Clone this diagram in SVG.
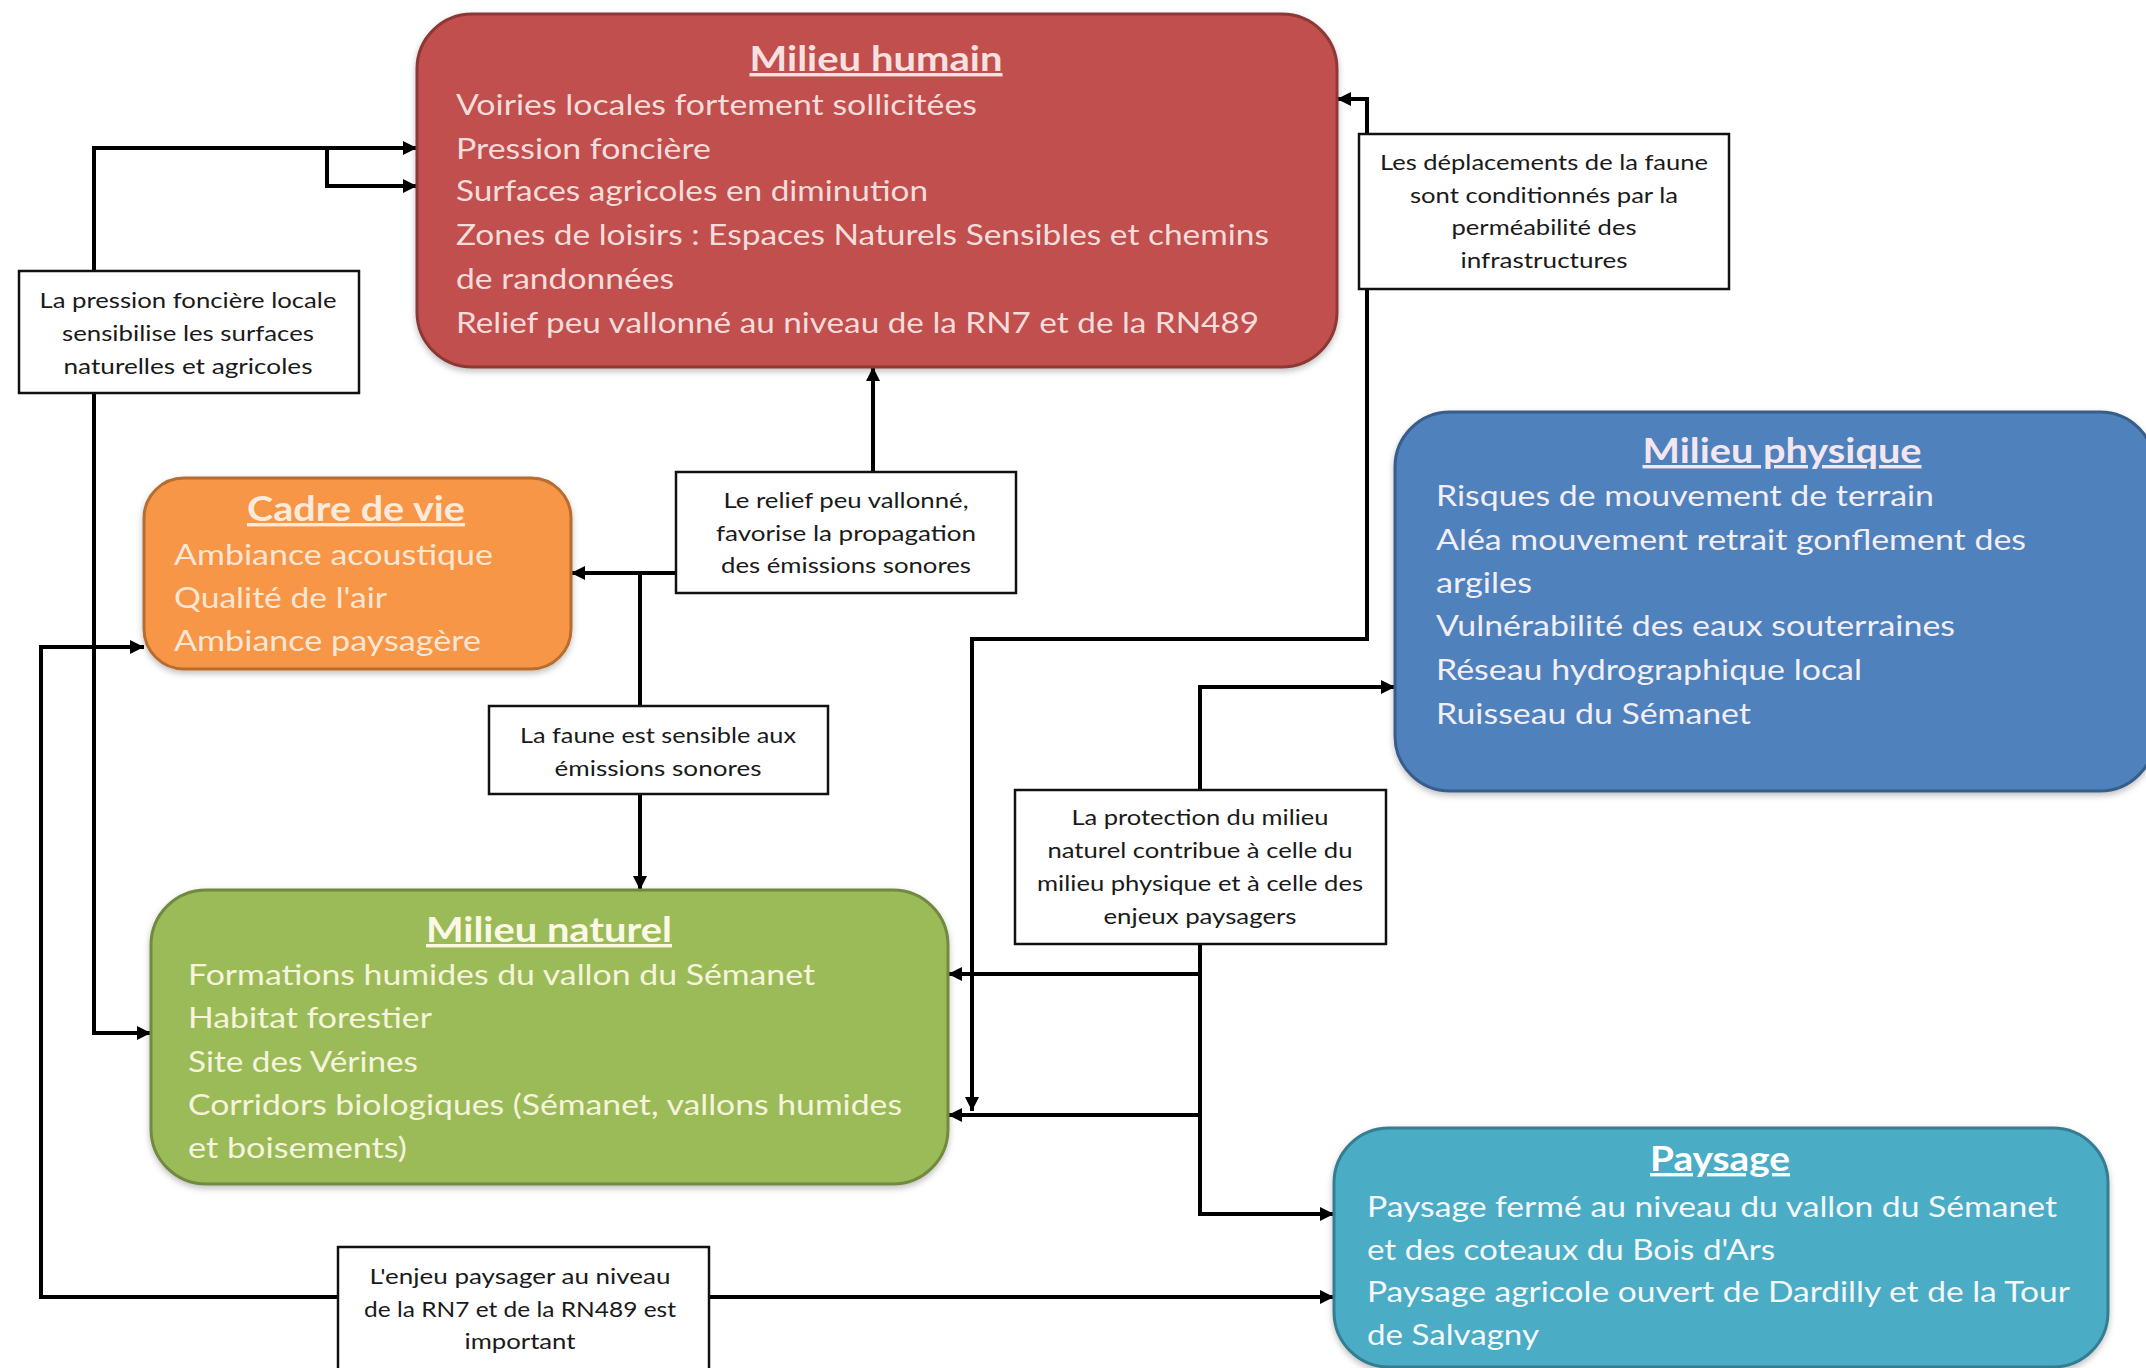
<svg xmlns="http://www.w3.org/2000/svg" width="2146" height="1368" viewBox="0 0 2146 1368">
<style>
.t{font-family:Lato,"Liberation Sans",sans-serif;font-size:28px}
.h{font-family:Lato,"Liberation Sans",sans-serif;font-size:34px;font-weight:bold;text-anchor:middle;text-decoration:underline}
.l{font-family:Lato,"Liberation Sans",sans-serif;font-size:21px;fill:#1a1a1a;text-anchor:middle}
.lb{fill:#fff;stroke:#111;stroke-width:2.5}
.c{fill:none;stroke:#000;stroke-width:4;marker-end:url(#ah)}
.c0{fill:none;stroke:#000;stroke-width:4}
</style>
<defs>
<marker id="ah" viewBox="0 0 10 10" refX="10" refY="5" markerWidth="16" markerHeight="14" markerUnits="userSpaceOnUse" orient="auto"><path d="M0,0 L10,5 L0,10 z" fill="#000"/></marker>
<filter id="sh" x="-5%" y="-5%" width="110%" height="115%"><feDropShadow dx="0" dy="3" stdDeviation="3" flood-color="#000" flood-opacity="0.25"/></filter>
</defs>
<rect width="2146" height="1368" fill="#fff"/>
<g id="connectors">
<path class="c" d="M94,700 L94,148 L417,148"/>
<path class="c" d="M327,148 L327,186 L417,186"/>
<path class="c" d="M94,700 L94,1033 L151,1033"/>
<path class="c" d="M520,1297 L1334,1297"/>
<path class="c" d="M520,1297 L41,1297 L41,647 L144,647"/>
<path class="c" d="M873,472 L873,367"/>
<path class="c" d="M676,573 L571,573"/>
<path class="c" d="M640,573 L640,890"/>
<path class="c" d="M1367,289 L1367,99 L1337,99"/>
<path class="c" d="M1367,289 L1367,639 L972,639 L972,1111"/>
<path class="c" d="M1200,790 L1200,687 L1395,687"/>
<path class="c" d="M1200,944 L1200,1214 L1334,1214"/>
<path class="c" d="M1200,974 L948,974"/>
<path class="c" d="M1200,1115 L948,1115"/>
</g>
<g id="milieu-humain">
<rect x="417" y="14" width="920" height="353" rx="55" fill="#c0504d" stroke="#8c3836" stroke-width="3" filter="url(#sh)"/>
<text class="h" x="876" y="71" fill="#f7e0df" textLength="253" lengthAdjust="spacingAndGlyphs">Milieu humain</text>
<g class="t" fill="#f4dcdb">
<text x="456" y="115" textLength="521" lengthAdjust="spacingAndGlyphs">Voiries locales fortement sollicitées</text>
<text x="456" y="159" textLength="255" lengthAdjust="spacingAndGlyphs">Pression foncière</text>
<text x="456" y="201" textLength="472" lengthAdjust="spacingAndGlyphs">Surfaces agricoles en diminution</text>
<text x="456" y="245" textLength="813" lengthAdjust="spacingAndGlyphs">Zones de loisirs : Espaces Naturels Sensibles et chemins</text>
<text x="456" y="289" textLength="218" lengthAdjust="spacingAndGlyphs">de randonnées</text>
<text x="456" y="333" textLength="803" lengthAdjust="spacingAndGlyphs">Relief peu vallonné au niveau de la RN7 et de la RN489</text>
</g>
</g>
<g id="cadre-de-vie">
<rect x="144" y="478" width="427" height="191" rx="40" fill="#f79646" stroke="#b66d31" stroke-width="3" filter="url(#sh)"/>
<text class="h" x="356" y="521" fill="#fdeadb" textLength="218" lengthAdjust="spacingAndGlyphs">Cadre de vie</text>
<g class="t" fill="#fde6d4">
<text x="174" y="565" textLength="319" lengthAdjust="spacingAndGlyphs">Ambiance acoustique</text>
<text x="174" y="608" textLength="213" lengthAdjust="spacingAndGlyphs">Qualité de l'air</text>
<text x="174" y="651" textLength="307" lengthAdjust="spacingAndGlyphs">Ambiance paysagère</text>
</g>
</g>
<g id="milieu-physique">
<rect x="1395" y="412" width="760" height="379" rx="55" fill="#4f81bd" stroke="#385d8a" stroke-width="3" filter="url(#sh)"/>
<text class="h" x="1782" y="463" fill="#f4e6ee" textLength="279" lengthAdjust="spacingAndGlyphs">Milieu physique</text>
<g class="t" fill="#f2eef6">
<text x="1436" y="506" textLength="498" lengthAdjust="spacingAndGlyphs">Risques de mouvement de terrain</text>
<text x="1436" y="550" textLength="590" lengthAdjust="spacingAndGlyphs">Aléa mouvement retrait gonflement des</text>
<text x="1436" y="593" textLength="96" lengthAdjust="spacingAndGlyphs">argiles</text>
<text x="1436" y="636" textLength="519" lengthAdjust="spacingAndGlyphs">Vulnérabilité des eaux souterraines</text>
<text x="1436" y="680" textLength="426" lengthAdjust="spacingAndGlyphs">Réseau hydrographique local</text>
<text x="1436" y="724" textLength="315" lengthAdjust="spacingAndGlyphs">Ruisseau du Sémanet</text>
</g>
</g>
<g id="milieu-naturel">
<rect x="151" y="890" width="797" height="294" rx="55" fill="#9bbb59" stroke="#71893f" stroke-width="3" filter="url(#sh)"/>
<text class="h" x="549" y="942" fill="#fbf8e6" textLength="246" lengthAdjust="spacingAndGlyphs">Milieu naturel</text>
<g class="t" fill="#f6f4dc">
<text x="188" y="985" textLength="627" lengthAdjust="spacingAndGlyphs">Formations humides du vallon du Sémanet</text>
<text x="188" y="1028" textLength="244" lengthAdjust="spacingAndGlyphs">Habitat forestier</text>
<text x="188" y="1072" textLength="230" lengthAdjust="spacingAndGlyphs">Site des Vérines</text>
<text x="188" y="1115" textLength="714" lengthAdjust="spacingAndGlyphs">Corridors biologiques (Sémanet, vallons humides</text>
<text x="188" y="1158" textLength="219" lengthAdjust="spacingAndGlyphs">et boisements)</text>
</g>
</g>
<g id="paysage">
<rect x="1334" y="1128" width="774" height="239" rx="55" fill="#4bacc6" stroke="#357d91" stroke-width="3" filter="url(#sh)"/>
<text class="h" x="1720" y="1171" fill="#ffffff" textLength="140" lengthAdjust="spacingAndGlyphs">Paysage</text>
<g class="t" fill="#f4f8fa">
<text x="1367" y="1217" textLength="690" lengthAdjust="spacingAndGlyphs">Paysage fermé au niveau du vallon du Sémanet</text>
<text x="1367" y="1260" textLength="408" lengthAdjust="spacingAndGlyphs">et des coteaux du Bois d'Ars</text>
<text x="1367" y="1302" textLength="703" lengthAdjust="spacingAndGlyphs">Paysage agricole ouvert de Dardilly et de la Tour</text>
<text x="1367" y="1345" textLength="172" lengthAdjust="spacingAndGlyphs">de Salvagny</text>
</g>
</g>
<g id="label-deplacements">
<rect class="lb" x="1359" y="134" width="370" height="155"/>
<text class="l" x="1544" y="170" textLength="328" lengthAdjust="spacingAndGlyphs">Les déplacements de la faune</text>
<text class="l" x="1544" y="203" textLength="268" lengthAdjust="spacingAndGlyphs">sont conditionnés par la</text>
<text class="l" x="1544" y="235" textLength="185" lengthAdjust="spacingAndGlyphs">perméabilité des</text>
<text class="l" x="1544" y="268" textLength="167" lengthAdjust="spacingAndGlyphs">infrastructures</text>
</g>
<g id="label-pression">
<rect class="lb" x="19" y="271" width="340" height="122"/>
<text class="l" x="188" y="308" textLength="297" lengthAdjust="spacingAndGlyphs">La pression foncière locale</text>
<text class="l" x="188" y="341" textLength="252" lengthAdjust="spacingAndGlyphs">sensibilise les surfaces</text>
<text class="l" x="188" y="374" textLength="249" lengthAdjust="spacingAndGlyphs">naturelles et agricoles</text>
</g>
<g id="label-relief">
<rect class="lb" x="676" y="472" width="340" height="121"/>
<text class="l" x="846" y="508" textLength="245" lengthAdjust="spacingAndGlyphs">Le relief peu vallonné,</text>
<text class="l" x="846" y="541" textLength="260" lengthAdjust="spacingAndGlyphs">favorise la propagation</text>
<text class="l" x="846" y="573" textLength="250" lengthAdjust="spacingAndGlyphs">des émissions sonores</text>
</g>
<g id="label-faune">
<rect class="lb" x="489" y="706" width="339" height="88"/>
<text class="l" x="658" y="743" textLength="276" lengthAdjust="spacingAndGlyphs">La faune est sensible aux</text>
<text class="l" x="658" y="776" textLength="207" lengthAdjust="spacingAndGlyphs">émissions sonores</text>
</g>
<g id="label-protection">
<rect class="lb" x="1015" y="790" width="371" height="154"/>
<text class="l" x="1200" y="825" textLength="257" lengthAdjust="spacingAndGlyphs">La protection du milieu</text>
<text class="l" x="1200" y="858" textLength="305" lengthAdjust="spacingAndGlyphs">naturel contribue à celle du</text>
<text class="l" x="1200" y="891" textLength="326" lengthAdjust="spacingAndGlyphs">milieu physique et à celle des</text>
<text class="l" x="1200" y="924" textLength="193" lengthAdjust="spacingAndGlyphs">enjeux paysagers</text>
</g>
<g id="label-enjeu">
<rect class="lb" x="338" y="1247" width="371" height="125"/>
<text class="l" x="520" y="1284" textLength="301" lengthAdjust="spacingAndGlyphs">L'enjeu paysager au niveau</text>
<text class="l" x="520" y="1317" textLength="312" lengthAdjust="spacingAndGlyphs">de la RN7 et de la RN489 est</text>
<text class="l" x="520" y="1349" textLength="111" lengthAdjust="spacingAndGlyphs">important</text>
</g>
</svg>
